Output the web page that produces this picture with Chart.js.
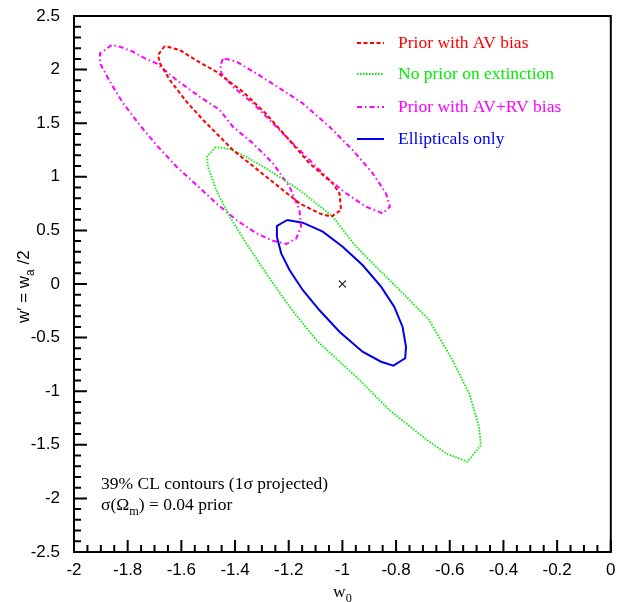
<!DOCTYPE html>
<html>
<head>
<meta charset="utf-8">
<script src="https://cdn.jsdelivr.net/npm/chart.js@4/dist/chart.umd.min.js"></script>
<style>
html, body { margin: 0; padding: 0; background: #fff; }
</style>
</head>
<body>
<canvas id="myChart" width="617" height="602"></canvas>
<script>
// Ejes
const xTicks = [-2, -1.8, -1.6, -1.4, -1.2, -1, -0.8, -0.6, -0.4, -0.2, 0];
const xTickLabels = ['-2', '-1.8', '-1.6', '-1.4', '-1.2', '-1', '-0.8', '-0.6', '-0.4', '-0.2', '0'];
const yTicks = [-2.5, -2, -1.5, -1, -0.5, 0, 0.5, 1, 1.5, 2, 2.5];
const yTickLabels = ['-2.5', '-2', '-1.5', '-1', '-0.5', '0', '0.5', '1', '1.5', '2', '2.5'];

// Prior with AV bias (rojo)
const avW0 = [-1.662, -1.687, -1.680, -1.643, -1.581, -1.519, -1.408, -1.284, -1.160, -1.086, -1.042,
              -1.005, -1.011, -1.036, -1.123, -1.209, -1.284, -1.371, -1.470, -1.547, -1.606, -1.662];
const avWp = [2.220, 2.136, 2.059, 1.903, 1.701, 1.530, 1.250, 1.001, 0.753, 0.659, 0.628,
              0.690, 0.846, 0.939, 1.126, 1.374, 1.586, 1.794, 1.980, 2.090, 2.183, 2.220];

// No prior on extinction (verde)
const noPriorW0 = [-1.472, -1.504, -1.501, -1.470, -1.420, -1.358, -1.284, -1.197, -1.098, -0.949, -0.825,
                   -0.701, -0.615, -0.534, -0.484, -0.491, -0.528, -0.590, -0.677, -0.762, -0.825, -0.949,
                   -1.036, -1.160, -1.284, -1.371, -1.420, -1.472];
const noPriorWp = [1.278, 1.187, 1.094, 0.877, 0.628, 0.380, 0.100, -0.212, -0.522, -0.865, -1.175,
                   -1.424, -1.579, -1.658, -1.502, -1.331, -1.020, -0.709, -0.336, -0.118, 0.037, 0.348,
                   0.628, 0.877, 1.079, 1.203, 1.259, 1.278];

// Prior with AV+RV bias (magenta, dos regiones)
const avrvAW0 = [-1.860, -1.903, -1.903, -1.866, -1.817, -1.755, -1.693, -1.618, -1.544, -1.470, -1.395,
                 -1.321, -1.259, -1.209, -1.172, -1.154, -1.160, -1.197, -1.259, -1.333, -1.408, -1.457,
                 -1.532, -1.618, -1.693, -1.736, -1.780, -1.829, -1.860];
const avrvAWp = [2.229, 2.152, 2.059, 1.887, 1.686, 1.483, 1.297, 1.094, 0.924, 0.753, 0.597,
                 0.473, 0.404, 0.373, 0.426, 0.535, 0.690, 0.908, 1.126, 1.312, 1.467, 1.623,
                 1.747, 1.903, 2.059, 2.105, 2.167, 2.214, 2.229];
const avrvBW0 = [-1.445, -1.455, -1.451, -1.408, -1.333, -1.259, -1.185, -1.110, -1.048, -0.986, -0.912,
                 -0.850, -0.823, -0.838, -0.887, -0.962, -1.048, -1.148, -1.234, -1.321, -1.395, -1.426, -1.445];
const avrvBWp = [2.099, 2.043, 1.965, 1.840, 1.686, 1.499, 1.312, 1.126, 0.970, 0.846, 0.721,
                 0.659, 0.721, 0.846, 1.033, 1.250, 1.467, 1.686, 1.826, 1.965, 2.074, 2.096, 2.099];

// Ellipticals only (azul)
const ellW0 = [-1.206, -1.244, -1.244, -1.228, -1.197, -1.148, -1.086, -1.011, -0.925, -0.856, -0.810,
               -0.766, -0.763, -0.776, -0.807, -0.856, -0.925, -0.999, -1.073, -1.148, -1.206];
const ellWp = [0.597, 0.541, 0.441, 0.286, 0.131, -0.056, -0.243, -0.445, -0.632, -0.725, -0.762,
               -0.693, -0.585, -0.398, -0.212, -0.025, 0.177, 0.348, 0.488, 0.572, 0.597];

// Modelo fiducial
const fiducialW0 = [-1];
const fiducialWp = [0];

const legendLabels = ['Prior with AV bias', 'No prior on extinction', 'Prior with AV+RV bias', 'Ellipticals only'];
const noteLines = ['39% CL contours (1\u03C3 projected)'];

const RED = '#ff0000', GREEN = '#00ee00', MAGENTA = '#ff00ff', BLUE = '#0000ee';
const SERIF = '"Liberation Serif", "Times New Roman", serif';
const SANS = '"Liberation Sans", Arial, sans-serif';

function zip(xs, ys) {
    return xs.map((v, i) => ({ x: v, y: ys[i] }));
}

function contour(label, xs, ys, color, dash, width) {
    return {
        label: label,
        data: zip(xs, ys),
        showLine: true,
        borderColor: color,
        backgroundColor: color,
        borderWidth: width,
        borderDash: dash,
        pointRadius: 0,
        tension: 0,
        fill: false
    };
}

// Texto con subíndices: partes [texto, esSubindice]
function drawParts(ctx, parts, x, y, size, font) {
    let cx = x;
    parts.forEach(([t, sub]) => {
        ctx.font = (sub ? size * 0.7 : size) + 'px ' + font;
        ctx.fillText(t, cx, sub ? y + size * 0.3 : y);
        cx += ctx.measureText(t).width;
    });
}

const decoPlugin = {
    id: 'deco',
    afterDraw(chart) {
        const { ctx, chartArea: a, scales: { x, y } } = chart;
        ctx.save();
        // marco
        ctx.strokeStyle = '#000';
        ctx.lineWidth = 2;
        ctx.strokeRect(a.left, a.top, a.right - a.left, a.bottom - a.top);
        // marcas hacia dentro
        ctx.beginPath();
        for (let i = 0; i <= 40; i++) {
            const px = x.getPixelForValue(-2 + i * 0.05);
            const len = i % 4 === 0 ? 12 : 7;
            ctx.moveTo(px, a.bottom);
            ctx.lineTo(px, a.bottom - len);
        }
        for (let i = 0; i <= 50; i++) {
            const py = y.getPixelForValue(-2.5 + i * 0.1);
            const len = i % 5 === 0 ? 13 : 7;
            ctx.moveTo(a.left, py);
            ctx.lineTo(a.left + len, py);
        }
        ctx.stroke();

        // leyenda
        const colors = [RED, GREEN, MAGENTA, BLUE];
        const dashes = [[4, 2.5], [1.5, 1.5], [5, 3, 1.5, 3], []];
        const widths = [2, 1.8, 2, 2];
        const rowsY = [43, 74, 107, 139];
        ctx.textBaseline = 'middle';
        ctx.textAlign = 'left';
        legendLabels.forEach((lab, i) => {
            ctx.strokeStyle = colors[i];
            ctx.lineWidth = widths[i];
            ctx.setLineDash(dashes[i]);
            ctx.beginPath();
            ctx.moveTo(357, rowsY[i]);
            ctx.lineTo(384, rowsY[i]);
            ctx.stroke();
            ctx.setLineDash([]);
            ctx.fillStyle = colors[i];
            ctx.font = '17.5px ' + SERIF;
            ctx.fillText(lab, 398, rowsY[i]);
        });

        // nota
        ctx.fillStyle = '#000';
        ctx.textBaseline = 'alphabetic';
        ctx.font = '17.5px ' + SERIF;
        ctx.fillText(noteLines[0], 101, 489);
        drawParts(ctx, [['\u03C3(\u03A9', false], ['m', true], [') = 0.04 prior', false]], 101, 510, 17.5, SERIF);

        // título eje x
        drawParts(ctx, [['w', false], ['0', true]], 333, 597, 17.5, SERIF);

        // título eje y
        ctx.translate(29, 323);
        ctx.rotate(-Math.PI / 2);
        drawParts(ctx, [['w\u2032 = w', false], ['a', true], [' /2', false]], 0, 0, 17, SANS);
        ctx.restore();
    }
};

const ctx = document.getElementById('myChart').getContext('2d');

const myChart = new Chart(ctx, {
    type: 'scatter',
    data: {
        datasets: [
            contour(legendLabels[0], avW0, avWp, RED, [4, 2.5], 2),
            contour(legendLabels[1], noPriorW0, noPriorWp, GREEN, [1.5, 1.5], 1.8),
            contour(legendLabels[2], avrvAW0, avrvAWp, MAGENTA, [5, 3, 1.5, 3], 2),
            contour(legendLabels[2], avrvBW0, avrvBWp, MAGENTA, [5, 3, 1.5, 3], 2),
            contour(legendLabels[3], ellW0, ellWp, BLUE, [], 2),
            {
                label: 'fiducial',
                data: zip(fiducialW0, fiducialWp),
                pointStyle: 'crossRot',
                pointRadius: 5,
                borderColor: '#333',
                borderWidth: 1.2,
                showLine: false
            }
        ]
    },
    options: {
        responsive: false,
        animation: false,
        layout: { padding: { top: 16, right: 5, left: 0, bottom: 0 } },
        plugins: { legend: { display: false }, tooltip: { enabled: false } },
        scales: {
            x: {
                type: 'linear',
                min: -2,
                max: 0,
                afterBuildTicks: s => { s.ticks = xTicks.map(v => ({ value: v })); },
                afterFit: s => { s.height = 50; s.paddingLeft = 0; s.paddingRight = 0; },
                grid: { display: false, drawTicks: false },
                border: { display: false },
                ticks: {
                    padding: 8,
                    color: '#000',
                    font: { family: SANS, size: 17 },
                    maxRotation: 0,
                    callback: (v, i) => xTickLabels[i]
                }
            },
            y: {
                type: 'linear',
                min: -2.5,
                max: 2.5,
                afterBuildTicks: s => { s.ticks = yTicks.map(v => ({ value: v })); },
                afterFit: s => { s.width = 74; s.paddingTop = 0; s.paddingBottom = 0; },
                grid: { display: false, drawTicks: false },
                border: { display: false },
                ticks: {
                    padding: 14,
                    color: '#000',
                    font: { family: SANS, size: 17 },
                    callback: (v, i) => yTickLabels[i]
                }
            }
        }
    },
    plugins: [decoPlugin]
});
</script>
</body>
</html>
